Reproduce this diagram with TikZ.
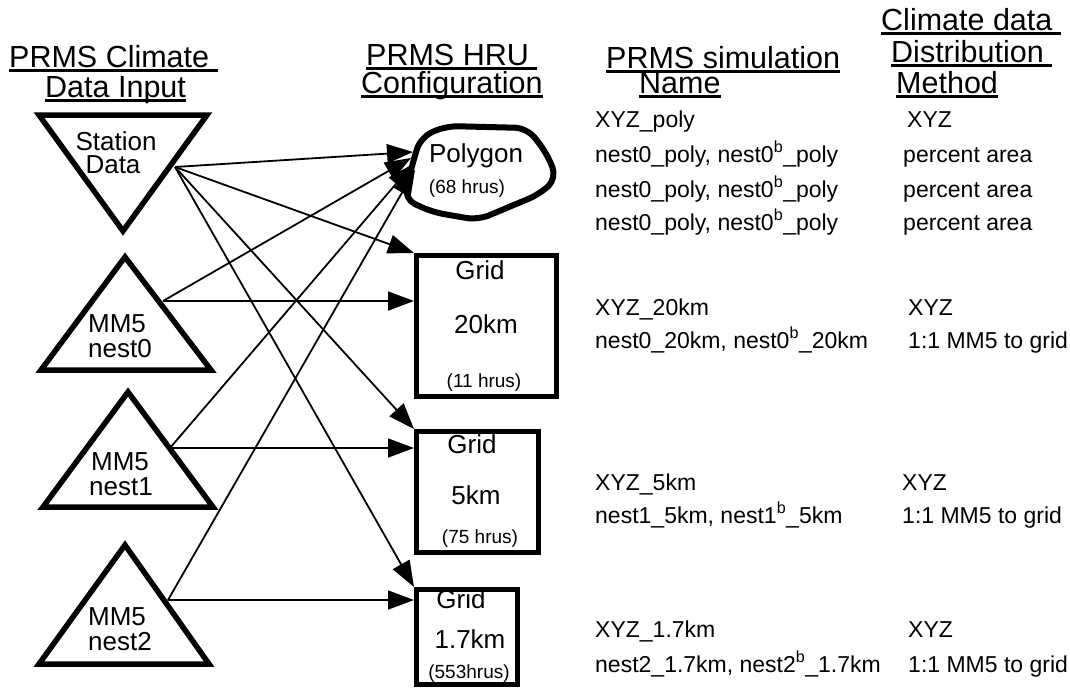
\documentclass[tikz,border=0pt]{standalone}
\usepackage{fontspec}
\setmainfont{Liberation Sans}
\usetikzlibrary{arrows.meta,calc}
\newcommand{\ulin}[1]{\setbox0\hbox{#1}\dp0=0pt\vtop{\box0\kern2.4pt\hrule height 2.4pt}}
\newcommand{\supb}{\textsuperscript{b}}
\tikzset{
  hdr/.style={font=\fontsize{30.5}{33}\selectfont,inner sep=0pt,anchor=base west},
  cell/.style={font=\fontsize{23}{25}\selectfont,inner sep=0pt,anchor=base west},
  lbl/.style={font=\fontsize{26}{28}\selectfont,inner sep=0pt,anchor=base},
  hrus/.style={font=\fontsize{19}{21}\selectfont,inner sep=0pt,anchor=base},
  tri/.style={line width=5.5pt,line join=miter},
  box/.style={draw,line width=5pt,inner sep=0pt},
  arr/.style={-{Triangle[length=26pt,width=19pt]},line width=1.8pt},
}

\begin{document}
\begin{tikzpicture}[x=1pt,y=-1pt]
\useasboundingbox (0,0) rectangle (1070,689);
% column headings
\node[hdr] (hA1) at (9,67) {\ulin{PRMS Climate\ }};
\node[hdr] (hA2) at (45,97) {\ulin{Data Input}};
\node[hdr] (hB1) at (366,65) {\ulin{PRMS HRU\ }};
\node[hdr] (hB2) at (361,93) {\ulin{Configuration}};
\node[hdr] (hC1) at (606,68) {\ulin{PRMS simulation}};
\node[hdr] (hC2) at (639,93) {\ulin{Name}};
\node[hdr] (hD1) at (881,30) {\ulin{Climate data\ }};
\node[hdr] (hD2) at (891,62) {\ulin{Distribution\ }};
\node[hdr] (hD3) at (896,93) {\ulin{Method}};
% climate data inputs
\draw[tri] (39,115) -- (207,115) -- (123,231) -- cycle;
\draw[tri] (125,257) -- (211,370) -- (41,370) -- cycle;
\draw[tri] (128,392) -- (213,507) -- (43,507) -- cycle;
\draw[tri] (125,545) -- (209,664) -- (39,664) -- cycle;
\node[lbl] (st1) at (116,150) {Station};
\node[lbl] (st2) at (113,173) {Data};
\node[lbl] (m0a) at (117,332) {MM5};
\node[lbl] (m0b) at (120,357) {nest0};
\node[lbl] (m1a) at (120,470) {MM5};
\node[lbl] (m1b) at (121,495) {nest1};
\node[lbl] (m2a) at (117,625) {MM5};
\node[lbl] (m2b) at (120,650) {nest2};
\coordinate (st) at (175,167);
\coordinate (n0) at (163,301);
\coordinate (n1) at (170,448);
\coordinate (n2) at (168,600);
% hru configurations
\draw[line width=6pt,rounded corners=12pt] (414,158) -- (421,137) -- (446,126) -- (527,128)
  -- (546,152) -- (557,178) -- (540,194) -- (478,220) -- (432,212) -- (404,199) -- cycle;
\coordinate (pa) at (413,152);
\coordinate (pb) at (411,158);
\coordinate (pc) at (413,164);
\coordinate (pd) at (415,170);
\node[lbl] (poly) at (476,162) {Polygon};
\node[hrus] (polyh) at (467,193) {(68 hrus)};
\node[box,minimum width=140pt,minimum height=141pt] (g20) at (486.5,326) {};
\node[box,minimum width=122pt,minimum height=121pt] (g5) at (477.5,492) {};
\node[box,minimum width=101pt,minimum height=95pt] (g17) at (467,637) {};
\node[lbl] (g20a) at (480,279) {Grid};
\node[lbl] (g20b) at (486,333) {20km};
\node[hrus] (g20c) at (484,387) {(11 hrus)};
\node[lbl] (g5a) at (472,453) {Grid};
\node[lbl] (g5b) at (476,504) {5km};
\node[hrus] (g5c) at (480,543) {(75 hrus)};
\node[lbl] (g17a) at (461,608) {Grid};
\node[lbl] (g17b) at (470,648) {1.7km};
\node[hrus] (g17c) at (469,678) {(553hrus)};
% links
\draw[arr] (st) -- (pa);
\draw[arr] (st) -- (g20.north west);
\draw[arr] (st) -- (g5.north west);
\draw[arr] (st) -- (g17.north west);
\draw[arr] (n0) -- (pb);
\draw[arr] (n0) -- (n0 -| g20.west);
\draw[arr] (n1) -- (pc);
\draw[arr] (n1) -- (n1 -| g5.west);
\draw[arr] (n2) -- (pd);
\draw[arr] (n2) -- (n2 -| g17.west);
% simulation names and methods
\node[cell] (r1a) at (595,127) {XYZ\_poly};
\node[cell] (r1b) at (907,127) {XYZ};
\node[cell] (r2a) at (595,162) {nest0\_poly, nest0\supb\_poly};
\node[cell] (r2b) at (903,162) {percent area};
\node[cell] (r3a) at (595,197) {nest0\_poly, nest0\supb\_poly};
\node[cell] (r3b) at (903,197) {percent area};
\node[cell] (r4a) at (595,230) {nest0\_poly, nest0\supb\_poly};
\node[cell] (r4b) at (903,230) {percent area};
\node[cell] (r5a) at (595,315) {XYZ\_20km};
\node[cell] (r5b) at (908,315) {XYZ};
\node[cell] (r6a) at (595,348) {nest0\_20km, nest0\supb\_20km};
\node[cell] (r6b) at (908,348) {1:1 MM5 to grid};
\node[cell] (r7a) at (595,490) {XYZ\_5km};
\node[cell] (r7b) at (902,490) {XYZ};
\node[cell] (r8a) at (595,523) {nest1\_5km, nest1\supb\_5km};
\node[cell] (r8b) at (902,523) {1:1 MM5 to grid};
\node[cell] (r9a) at (595,637) {XYZ\_1.7km};
\node[cell] (r9b) at (908,637) {XYZ};
\node[cell] (r10a) at (595,672) {nest2\_1.7km, nest2\supb\_1.7km};
\node[cell] (r10b) at (908,672) {1:1 MM5 to grid};
\end{tikzpicture}
\end{document}
